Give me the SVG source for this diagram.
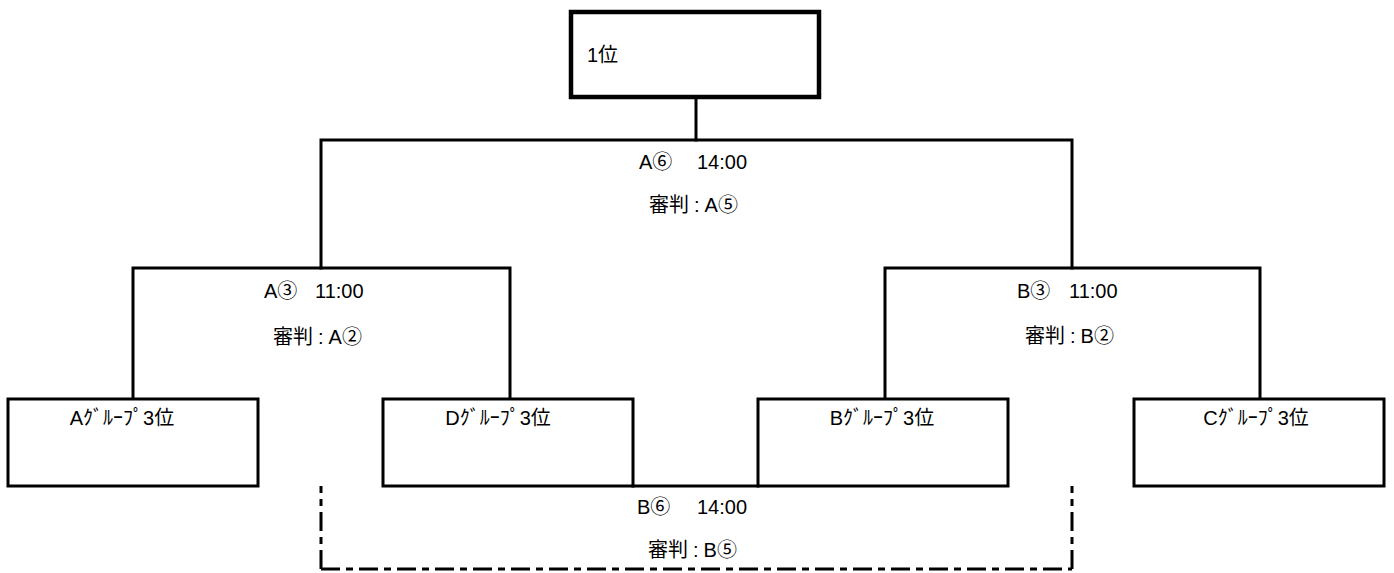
<svg xmlns="http://www.w3.org/2000/svg" width="1394" height="573" viewBox="0 0 1394 573">
<style>
  .box { fill: #ffffff; stroke: #000000; stroke-width: 3; }
  .top { fill: #ffffff; stroke: #000000; stroke-width: 4.5; }
  .ln { fill: none; stroke: #000000; stroke-width: 3; stroke-linecap: square; }
  .dash { fill: none; stroke: #000000; stroke-width: 3; stroke-dasharray: 19 6 7 6; }
  text { font-family: "Liberation Sans", "Noto Sans CJK JP", sans-serif; font-size: 20px; fill: #000000; }
  .c { text-anchor: middle; }
</style>
<rect width="1394" height="573" fill="#ffffff"/>
<g id="connectors">
  <path class="ln" d="M696,97 V140"/>
  <path class="ln" d="M321,140 H1072 M321,140 V268 M1072,140 V268"/>
  <path class="ln" d="M133,268 H510 M133,268 V399 M510,268 V399"/>
  <path class="ln" d="M885,268 H1260 M885,268 V399 M1260,268 V399"/>
  <path class="ln" d="M633,486 H758"/>
  <path class="dash" d="M321,569 V486"/>
  <path class="dash" d="M321,569 H1072"/>
  <path class="dash" d="M1072,569 V486"/>
</g>
<g id="labels">
  <text x="639" y="169">A⑥ <tspan x="697">14:00</tspan></text>
  <text x="649" y="212">審判<tspan dx="5">:</tspan><tspan dx="5">A⑤</tspan></text>
  <text x="264" y="298">A③ <tspan x="315">11:00</tspan></text>
  <text x="273" y="344">審判<tspan dx="5">:</tspan><tspan dx="5">A②</tspan></text>
  <text x="1017" y="298">B③ <tspan x="1069">11:00</tspan></text>
  <text x="1025" y="343">審判<tspan dx="5">:</tspan><tspan dx="5">B②</tspan></text>
  <text x="637" y="514">B⑥ <tspan x="697">14:00</tspan></text>
  <text x="648" y="557">審判<tspan dx="5">:</tspan><tspan dx="5">B⑤</tspan></text>
</g>
<g id="node-first">
  <rect class="top" x="571" y="12" width="248" height="85"/>
  <text x="587" y="62">1位</text>
</g>
<g id="node-a3">
  <rect class="box" x="8" y="399" width="250" height="87"/>
  <text class="c" x="122" y="425">Aｸﾞﾙｰﾌﾟ3位</text>
</g>
<g id="node-d3">
  <rect class="box" x="383" y="399" width="250" height="87"/>
  <text class="c" x="498" y="425">Dｸﾞﾙｰﾌﾟ3位</text>
</g>
<g id="node-b3">
  <rect class="box" x="758" y="399" width="250" height="87"/>
  <text class="c" x="882" y="425">Bｸﾞﾙｰﾌﾟ3位</text>
</g>
<g id="node-c3">
  <rect class="box" x="1134" y="399" width="250" height="87"/>
  <text class="c" x="1256" y="425">Cｸﾞﾙｰﾌﾟ3位</text>
</g>
</svg>
